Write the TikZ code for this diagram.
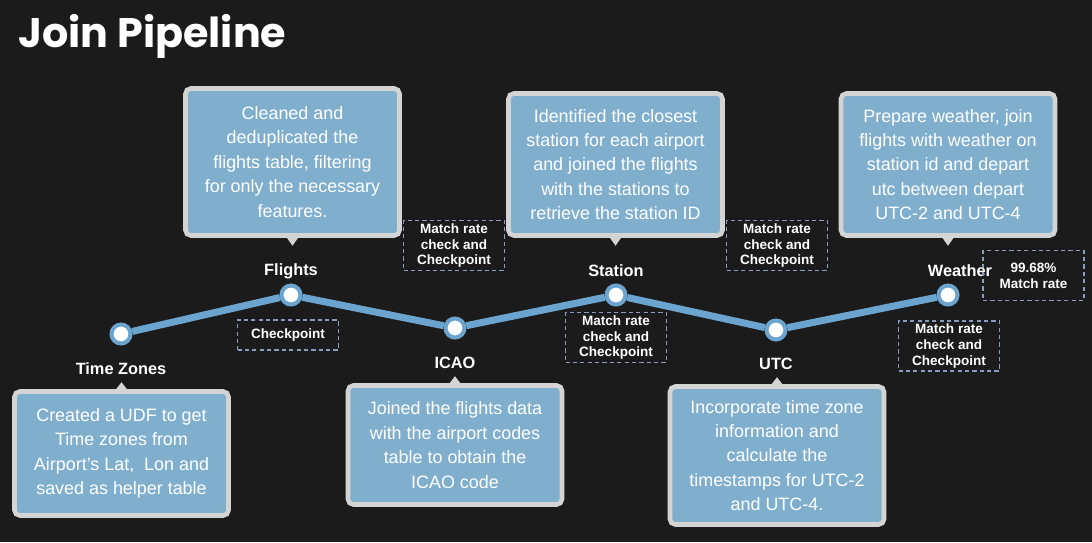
\documentclass[tikz,border=0pt]{standalone}
\usepackage{fontspec}
\setmainfont{Liberation Sans}
\newfontfamily\titlefont{Poppins}
\usetikzlibrary{calc}

\definecolor{fundo}{HTML}{1B1B1B}
\definecolor{linha}{HTML}{6AA4CF}
\definecolor{caixa}{HTML}{80AFCE}
\definecolor{borda}{HTML}{D4D4D4}
\definecolor{tracejado}{HTML}{8A9CC0}

\tikzset{
  nota/.style={rectangle, rounded corners=3pt, fill=caixa, draw=borda, line width=2.6pt,
    text=white, align=center, inner sep=0pt, minimum width=4.28cm,
    font=\fontsize{10.2}{13.9}\selectfont},
  ponta/.style={fill=borda},
  ponto/.style={circle, fill=white, draw=linha, line width=2.3pt, minimum size=0.38cm, inner sep=0pt},
  rotulo/.style={text=white, font=\bfseries\fontsize{9.3}{11}\selectfont, inner sep=0pt},
  marca/.style={draw=tracejado, dash pattern=on 2.4pt off 1.8pt, line width=0.8pt,
    text=white, align=center, inner sep=0pt, minimum width=2.02cm, minimum height=1.0cm,
    font=\bfseries\fontsize{7.7}{9.1}\selectfont}
}

\begin{document}
\begin{tikzpicture}[x=0.02cm, y=-0.02cm] %1 unidade = 1 pixel da figura
    %Fundo
  \fill[fundo] (0,0) rectangle (1092,542);
  \useasboundingbox (0,0) rectangle (1092,542);
  \node[anchor=base west, text=white, inner sep=0pt, font=\titlefont\bfseries\fontsize{23.5}{28}\selectfont] (titulo) at (18,47) {Join Pipeline}; %Titulo
    %Pontos da linha
  \node[ponto] (tz) at (121,334) {};
  \node[ponto] (fl) at (291,295) {};
  \node[ponto] (ic) at (455,328) {};
  \node[ponto] (st) at (616,295) {};
  \node[ponto] (ut) at (776,330) {};
  \node[ponto] (wx) at (948,295) {};
  \draw[linha, line width=4pt] (tz) -- (fl) -- (ic) -- (st) -- (ut) -- (wx); %Linha do pipeline
    %Nomes das etapas
  \node[rotulo] (tzr) at (121,369) {Time Zones};
  \node[rotulo] (flr) at (291,271) {Flights};
  \node[rotulo] (icr) at (455,363) {ICAO};
  \node[rotulo] (str) at (616,271) {Station};
  \node[rotulo] (utr) at (776,364) {UTC};
  \node[rotulo] (wxr) at (960,271) {Weather};
    %Caixas de texto
  \node[nota, minimum height=2.48cm] (tzbox) at (121.5,453.5) {Created a UDF to get\\Time zones from\\Airport's Lat,\ \ Lon and\\saved as helper table};
  \node[nota, minimum height=2.94cm] (flbox) at (292.5,162) {Cleaned and\\deduplicated the\\flights table, filtering\\for only the necessary\\features.};
  \node[nota, minimum height=2.84cm] (stbox) at (615.5,164.5) {Identified the closest\\station for each airport\\and joined the flights\\with the stations to\\retrieve the station ID};
  \node[nota, minimum height=2.84cm] (wxbox) at (948,164.5) {Prepare weather, join\\flights with weather on\\station id and depart\\utc between depart\\UTC-2 and UTC-4};
  \node[nota, minimum height=2.38cm] (icbox) at (455,445) {Joined the flights data\\with the airport codes\\table to obtain the\\ICAO code};
  \node[nota, minimum height=2.76cm] (utbox) at (777,455.5) {Incorporate time zone\\information and\\calculate the\\timestamps for UTC-2\\and UTC-4.};
    %Pontas das caixas
  \fill[ponta] ($(tzbox.north)+(-7,2)$) -- ($(tzbox.north)+(7,2)$) -- ($(tzbox.north)+(0,-7)$) -- cycle;
  \fill[ponta] ($(flbox.south)+(-7,-2)$) -- ($(flbox.south)+(7,-2)$) -- ($(flbox.south)+(0,8)$) -- cycle;
  \fill[ponta] ($(stbox.south)+(-7,-2)$) -- ($(stbox.south)+(7,-2)$) -- ($(stbox.south)+(0,8)$) -- cycle;
  \fill[ponta] ($(wxbox.south)+(-7,-2)$) -- ($(wxbox.south)+(7,-2)$) -- ($(wxbox.south)+(0,8)$) -- cycle;
  \fill[ponta] ($(icbox.north)+(-7,2)$) -- ($(icbox.north)+(7,2)$) -- ($(icbox.north)+(0,-7)$) -- cycle;
  \fill[ponta] ($(utbox.north)+(-7,2)$) -- ($(utbox.north)+(7,2)$) -- ($(utbox.north)+(0,-7)$) -- cycle;
    %Caixas tracejadas
  \node[marca, minimum height=0.6cm] (ck1) at (288,335) {Checkpoint};
  \node[marca] (mr1) at (454,245.5) {Match rate\\check and\\Checkpoint};
  \node[marca] (mr2) at (777,245.5) {Match rate\\check and\\Checkpoint};
  \node[marca] (mr3) at (616,337.5) {Match rate\\check and\\Checkpoint};
  \node[marca] (mr4) at (949,346) {Match rate\\check and\\Checkpoint};
  \node[marca] (taxa) at (1033.5,275.5) {99.68\%\\Match rate};
\end{tikzpicture}
\end{document}
